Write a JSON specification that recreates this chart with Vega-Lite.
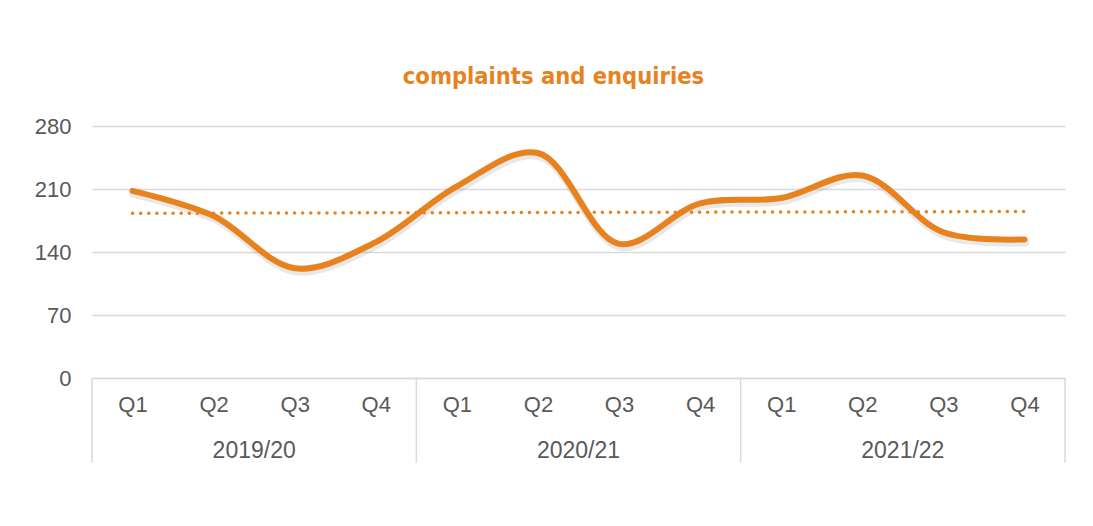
{
  "$schema": "https://vega.github.io/schema/vega-lite/v6.json",
  "width": 973,
  "height": 252,
  "autosize": {"type": "none"},
  "padding": {"left": 92, "top": 126, "right": 28, "bottom": 148},
  "background": "white",
  "config": {"view": {"stroke": null}, "font": "Liberation Sans"},
  "title": {
    "text": "complaints and enquiries",
    "font": "Liberation Sans Narrow, DejaVu Sans Condensed, sans-serif",
    "fontWeight": "bold",
    "fontSize": 23.5,
    "color": "#E8821E",
    "anchor": "middle",
    "frame": "group",
    "offset": 27,
    "dx": -25
  },
  "datasets": {
    "main": [
      {"idx": 1, "year": "2019/20", "quarter": "Q1", "value": 208},
      {"idx": 2, "year": "2019/20", "quarter": "Q2", "value": 180},
      {"idx": 3, "year": "2019/20", "quarter": "Q3", "value": 122},
      {"idx": 4, "year": "2019/20", "quarter": "Q4", "value": 151},
      {"idx": 5, "year": "2020/21", "quarter": "Q1", "value": 213},
      {"idx": 6, "year": "2020/21", "quarter": "Q2", "value": 250},
      {"idx": 7, "year": "2020/21", "quarter": "Q3", "value": 149},
      {"idx": 8, "year": "2020/21", "quarter": "Q4", "value": 194},
      {"idx": 9, "year": "2021/22", "quarter": "Q1", "value": 200},
      {"idx": 10, "year": "2021/22", "quarter": "Q2", "value": 225},
      {"idx": 11, "year": "2021/22", "quarter": "Q3", "value": 162},
      {"idx": 12, "year": "2021/22", "quarter": "Q4", "value": 154}
    ],
    "seps": [
      {"pos": 0.5},
      {"pos": 4.5},
      {"pos": 8.5},
      {"pos": 12.5}
    ],
    "years": [
      {"pos": 2.5, "label": "2019/20"},
      {"pos": 6.5, "label": "2020/21"},
      {"pos": 10.5, "label": "2021/22"}
    ]
  },
  "layer": [
    {
      "data": {"name": "seps"},
      "mark": {"type": "rule", "color": "#d9d9d9", "strokeWidth": 1.5},
      "encoding": {
        "x": {
          "field": "pos", "type": "quantitative",
          "scale": {"domain": [0.5, 12.5], "nice": false, "zero": false},
          "axis": {
            "values": [1, 2, 3, 4, 5, 6, 7, 8, 9, 10, 11, 12],
            "labelExpr": "'Q' + ((datum.value - 1) % 4 + 1)",
            "domain": true, "domainColor": "#d9d9d9", "domainWidth": 1.5,
            "ticks": false, "grid": false,
            "labelFontSize": 22, "labelColor": "#595959", "labelPadding": 16,
            "labelFont": "Liberation Sans",
            "title": null
          }
        },
        "y": {
          "datum": 0, "type": "quantitative",
          "scale": {"domain": [0, 280], "nice": false},
          "axis": {
            "values": [0, 70, 140, 210, 280],
            "grid": true, "gridColor": "#d9d9d9", "gridWidth": 1.5,
            "domain": false, "ticks": false,
            "labelFontSize": 22, "labelColor": "#595959", "labelPadding": 21,
            "labelFont": "Liberation Sans",
            "title": null
          }
        },
        "y2": {"datum": -94}
      }
    },
    {
      "data": {"name": "years"},
      "mark": {"type": "text", "fontSize": 23, "color": "#595959", "baseline": "middle", "align": "center", "font": "Liberation Sans"},
      "encoding": {
        "x": {"field": "pos", "type": "quantitative"},
        "y": {"datum": -81, "type": "quantitative"},
        "text": {"field": "label"}
      }
    },
    {
      "data": {"name": "main"},
      "mark": {"type": "line", "color": "#808080", "opacity": 0.18, "strokeWidth": 8, "interpolate": "catmull-rom", "strokeCap": "round", "yOffset": 3, "xOffset": 1},
      "encoding": {
        "x": {"field": "idx", "type": "quantitative"},
        "y": {"field": "value", "type": "quantitative"}
      }
    },
    {
      "data": {"name": "main"},
      "mark": {"type": "line", "color": "#E8821E", "strokeWidth": 6, "interpolate": "catmull-rom", "strokeCap": "round"},
      "encoding": {
        "x": {"field": "idx", "type": "quantitative"},
        "y": {"field": "value", "type": "quantitative"}
      }
    },
    {
      "data": {"name": "main"},
      "transform": [{"regression": "value", "on": "idx"}],
      "mark": {"type": "line", "color": "#E8821E", "strokeWidth": 3.5, "strokeDash": [0.1, 8], "strokeCap": "round"},
      "encoding": {
        "x": {"field": "idx", "type": "quantitative"},
        "y": {"field": "value", "type": "quantitative"}
      }
    }
  ]
}
